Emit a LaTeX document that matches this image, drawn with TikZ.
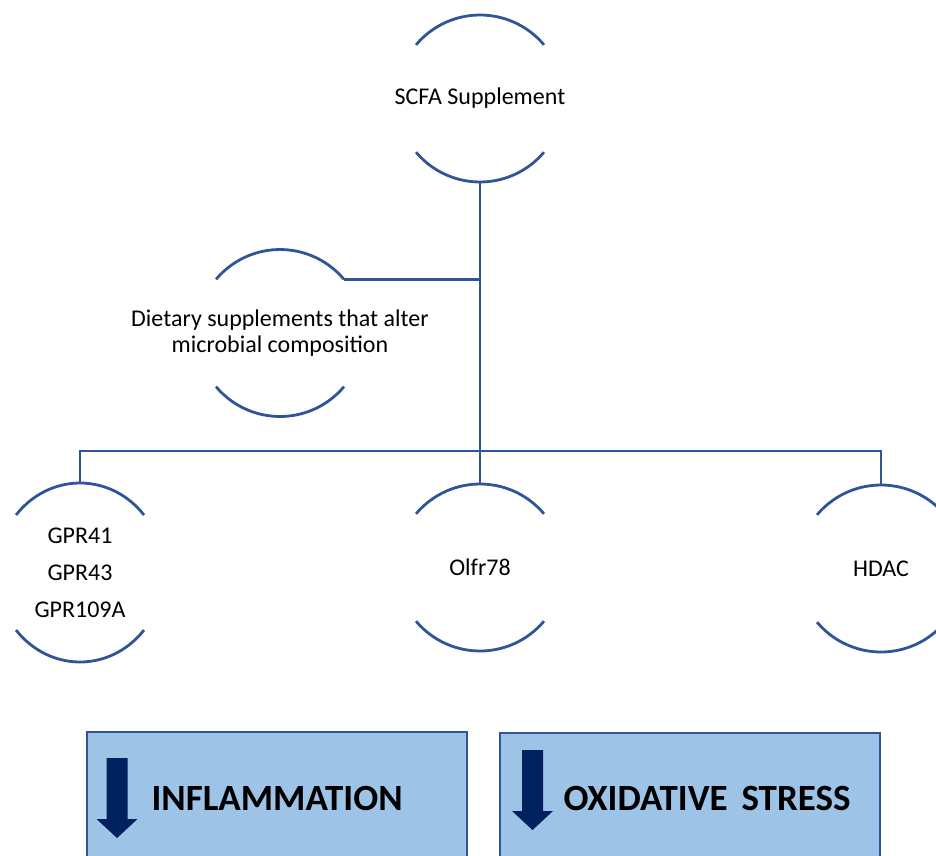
\documentclass[tikz,border=0pt]{standalone}
\usepackage{fontspec}
\setmainfont{Carlito}
\usepackage{tikz}
\usetikzlibrary{shapes,positioning}
\definecolor{wireblue}{RGB}{47,85,151}
\definecolor{boxblue}{RGB}{157,195,230}
\definecolor{navy}{RGB}{0,32,96}
\tikzstyle{wire}=[wireblue,line width=2.8pt]
\tikzstyle{ring}=[ellipse,inner sep=0pt,minimum width=167pt,minimum height=167pt]
\tikzstyle{ringtext}=[align=center,font=\fontsize{24}{26}\selectfont]
\tikzstyle{effect}=[draw=wireblue,line width=2pt,fill=boxblue,minimum width=380pt,minimum height=160pt,anchor=north west,inner sep=0pt]
\tikzstyle{effecttext}=[anchor=west,font=\fontsize{37}{42}\selectfont\bfseries]
% two arcs, gaps left and right
\newcommand{\splitring}[3]{%
  \draw[wire] (#1.center) ++(140:#2 and #3) arc[start angle=140,end angle=40,x radius=#2,y radius=#3];
  \draw[wire] (#1.center) ++(220:#2 and #3) arc[start angle=220,end angle=320,x radius=#2,y radius=#3];}
% thick down arrow, from top left of its shaft
\newcommand{\droparrow}[2]{%
  \fill[navy] (#1,#2) -- ++(21,0) -- ++(0,-61) -- ++(10,0) -- ++(-20.5,-19) -- ++(-20.5,19) -- ++(10,0) -- cycle;}

\begin{document}
\begin{tikzpicture}[x=1pt,y=1pt]
	\clip (0,0) rectangle (936,-855);

	%rings
	\node[ring] (scfa) at (480,-98.5) {};
	\node[ring] (diet) at (280,-333) {};
	\node[ring,minimum height=179pt] (gpr) at (80,-572.5) {};
	\node[ring] (olfr) at (480,-567.5) {};
	\node[ring] (hdac) at (881,-568.5) {};

	\splitring{scfa}{83.5pt}{83.5pt}
	\splitring{diet}{83.5pt}{83.5pt}
	\splitring{gpr}{83.5pt}{89.5pt}
	\splitring{olfr}{83.5pt}{83.5pt}
	\splitring{hdac}{83.5pt}{83.5pt}

	\node[ringtext] at (scfa) {SCFA Supplement};
	\node[ringtext] at (diet.center) {Dietary supplements that alter\\microbial composition};
	\node[ringtext,font=\fontsize{24}{37}\selectfont] at (gpr.center) {GPR41\\GPR43\\GPR109A};
	\node[ringtext] at (olfr.center) {Olfr78};
	\node[ringtext] at (hdac.center) {HDAC};

	%connectors
	\coordinate (bus) at (480,-451);
	\draw[wire] (scfa.south) -- (olfr.north);
	\draw[wire] (diet.40) -- (diet.40 -| scfa.south);
	\draw[wire] (gpr.north) |- (bus) -| (hdac.north);

	%effects
	\node[effect] (inflam) at (86,-731) {};
	\node[effect] (oxid) at (499,-732) {};
	\droparrow{106.5}{-758}
	\droparrow{522}{-750}
	\node[effecttext] at (148,-798) {INFLAMMATION};
	\node[effecttext] at (560,-798) {OXIDATIVE\hspace{0.15em} STRESS};
\end{tikzpicture}
\end{document}
